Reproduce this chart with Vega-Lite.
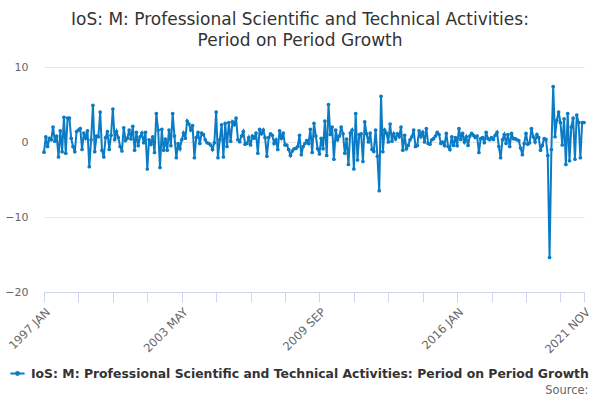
{
  "$schema": "https://vega.github.io/schema/vega-lite/v6.json",
  "autosize": "none",
  "width": 540,
  "height": 225,
  "padding": {"left": 44, "top": 67, "right": 16, "bottom": 108},
  "background": "#ffffff",
  "title": {
    "text": ["IoS: M: Professional Scientific and Technical Activities:", "Period on Period Growth"],
    "font": "DejaVu Sans",
    "fontSize": 17,
    "fontWeight": "normal",
    "color": "#333333",
    "anchor": "middle",
    "frame": "group",
    "dx": -14,
    "offset": 11,
    "lineHeight": 21
  },
  "config": {
    "view": {"stroke": null},
    "font": "DejaVu Sans"
  },
  "data": {"values": [
    {"m":"1997 JAN","v":-1.35},{"m":"1997 FEB","v":0.7},{"m":"1997 MAR","v":-0.6},{"m":"1997 APR","v":0.5},{"m":"1997 MAY","v":0.3},{"m":"1997 JUN","v":2.0},{"m":"1997 JUL","v":0.1},{"m":"1997 AUG","v":0.8},{"m":"1997 SEP","v":-2.0},{"m":"1997 OCT","v":1.5},{"m":"1997 NOV","v":-1.3},{"m":"1997 DEC","v":3.3},
    {"m":"1998 JAN","v":-1.5},{"m":"1998 FEB","v":3.2},{"m":"1998 MAR","v":3.2},{"m":"1998 APR","v":0.5},{"m":"1998 MAY","v":-0.6},{"m":"1998 JUN","v":-1.3},{"m":"1998 JUL","v":1.4},{"m":"1998 AUG","v":1.6},{"m":"1998 SEP","v":1.8},{"m":"1998 OCT","v":-1.0},{"m":"1998 NOV","v":1.2},{"m":"1998 DEC","v":0.5},
    {"m":"1999 JAN","v":1.5},{"m":"1999 FEB","v":-3.3},{"m":"1999 MAR","v":0.3},{"m":"1999 APR","v":4.9},{"m":"1999 MAY","v":-1.3},{"m":"1999 JUN","v":0.8},{"m":"1999 JUL","v":0.7},{"m":"1999 AUG","v":4.0},{"m":"1999 SEP","v":-1.1},{"m":"1999 OCT","v":-2.0},{"m":"1999 NOV","v":0.6},{"m":"1999 DEC","v":1.4},
    {"m":"2000 JAN","v":-1.0},{"m":"2000 FEB","v":0.9},{"m":"2000 MAR","v":4.4},{"m":"2000 APR","v":0.3},{"m":"2000 MAY","v":1.4},{"m":"2000 JUN","v":0.6},{"m":"2000 JUL","v":-0.6},{"m":"2000 AUG","v":-1.2},{"m":"2000 SEP","v":1.9},{"m":"2000 OCT","v":0.2},{"m":"2000 NOV","v":0.5},{"m":"2000 DEC","v":1.6},
    {"m":"2001 JAN","v":0.4},{"m":"2001 FEB","v":2.1},{"m":"2001 MAR","v":-1.1},{"m":"2001 APR","v":1.3},{"m":"2001 MAY","v":-0.5},{"m":"2001 JUN","v":0.7},{"m":"2001 JUL","v":1.2},{"m":"2001 AUG","v":-0.1},{"m":"2001 SEP","v":1.3},{"m":"2001 OCT","v":-3.6},{"m":"2001 NOV","v":0.3},{"m":"2001 DEC","v":-0.3},
    {"m":"2002 JAN","v":0.7},{"m":"2002 FEB","v":-1.4},{"m":"2002 MAR","v":3.8},{"m":"2002 APR","v":1.6},{"m":"2002 MAY","v":-3.4},{"m":"2002 JUN","v":1.7},{"m":"2002 JUL","v":-1.1},{"m":"2002 AUG","v":0.4},{"m":"2002 SEP","v":-1.1},{"m":"2002 OCT","v":1.6},{"m":"2002 NOV","v":-0.5},{"m":"2002 DEC","v":3.8},
    {"m":"2003 JAN","v":0.8},{"m":"2003 FEB","v":-2.1},{"m":"2003 MAR","v":-0.2},{"m":"2003 APR","v":-0.9},{"m":"2003 MAY","v":0.3},{"m":"2003 JUN","v":1.2},{"m":"2003 JUL","v":0.5},{"m":"2003 AUG","v":2.8},{"m":"2003 SEP","v":2.4},{"m":"2003 OCT","v":1.6},{"m":"2003 NOV","v":2.2},{"m":"2003 DEC","v":-2.1},
    {"m":"2004 JAN","v":0.6},{"m":"2004 FEB","v":1.3},{"m":"2004 MAR","v":-0.2},{"m":"2004 APR","v":1.2},{"m":"2004 MAY","v":1.0},{"m":"2004 JUN","v":0.3},{"m":"2004 JUL","v":-0.1},{"m":"2004 AUG","v":-0.2},{"m":"2004 SEP","v":-0.4},{"m":"2004 OCT","v":-1.0},{"m":"2004 NOV","v":-0.1},{"m":"2004 DEC","v":4.0},
    {"m":"2005 JAN","v":-2.1},{"m":"2005 FEB","v":0.3},{"m":"2005 MAR","v":2.3},{"m":"2005 APR","v":-2.0},{"m":"2005 MAY","v":2.5},{"m":"2005 JUN","v":-0.6},{"m":"2005 JUL","v":2.6},{"m":"2005 AUG","v":0.1},{"m":"2005 SEP","v":2.7},{"m":"2005 OCT","v":2.3},{"m":"2005 NOV","v":3.2},{"m":"2005 DEC","v":0.3},
    {"m":"2006 JAN","v":0.05},{"m":"2006 FEB","v":0.8},{"m":"2006 MAR","v":1.4},{"m":"2006 APR","v":-0.3},{"m":"2006 MAY","v":-0.2},{"m":"2006 JUN","v":0.6},{"m":"2006 JUL","v":-0.4},{"m":"2006 AUG","v":0.8},{"m":"2006 SEP","v":0.5},{"m":"2006 OCT","v":1.2},{"m":"2006 NOV","v":-1.5},{"m":"2006 DEC","v":1.7},
    {"m":"2007 JAN","v":1.1},{"m":"2007 FEB","v":1.6},{"m":"2007 MAR","v":0.6},{"m":"2007 APR","v":-1.9},{"m":"2007 MAY","v":0.6},{"m":"2007 JUN","v":1.1},{"m":"2007 JUL","v":0.9},{"m":"2007 AUG","v":-0.2},{"m":"2007 SEP","v":0.3},{"m":"2007 OCT","v":-1.0},{"m":"2007 NOV","v":1.5},{"m":"2007 DEC","v":0.5},
    {"m":"2008 JAN","v":1.2},{"m":"2008 FEB","v":-0.4},{"m":"2008 MAR","v":-0.4},{"m":"2008 APR","v":-1.0},{"m":"2008 MAY","v":-1.8},{"m":"2008 JUN","v":-1.2},{"m":"2008 JUL","v":-0.9},{"m":"2008 AUG","v":-0.85},{"m":"2008 SEP","v":-0.6},{"m":"2008 OCT","v":0.9},{"m":"2008 NOV","v":-1.7},{"m":"2008 DEC","v":-0.6},
    {"m":"2009 JAN","v":-0.2},{"m":"2009 FEB","v":0.2},{"m":"2009 MAR","v":-0.2},{"m":"2009 APR","v":1.7},{"m":"2009 MAY","v":-1.4},{"m":"2009 JUN","v":2.5},{"m":"2009 JUL","v":0.8},{"m":"2009 AUG","v":-0.9},{"m":"2009 SEP","v":-1.6},{"m":"2009 OCT","v":0.5},{"m":"2009 NOV","v":-0.9},{"m":"2009 DEC","v":2.8},
    {"m":"2010 JAN","v":-1.8},{"m":"2010 FEB","v":5.0},{"m":"2010 MAR","v":1.0},{"m":"2010 APR","v":2.0},{"m":"2010 MAY","v":-2.3},{"m":"2010 JUN","v":1.6},{"m":"2010 JUL","v":0.3},{"m":"2010 AUG","v":0.8},{"m":"2010 SEP","v":2.0},{"m":"2010 OCT","v":1.1},{"m":"2010 NOV","v":-1.5},{"m":"2010 DEC","v":0.4},
    {"m":"2011 JAN","v":-3.0},{"m":"2011 FEB","v":1.2},{"m":"2011 MAR","v":1.6},{"m":"2011 APR","v":-3.6},{"m":"2011 MAY","v":3.8},{"m":"2011 JUN","v":-2.4},{"m":"2011 JUL","v":1.0},{"m":"2011 AUG","v":1.1},{"m":"2011 SEP","v":-2.6},{"m":"2011 OCT","v":2.7},{"m":"2011 NOV","v":1.1},{"m":"2011 DEC","v":0.0},
    {"m":"2012 JAN","v":1.2},{"m":"2012 FEB","v":-1.0},{"m":"2012 MAR","v":-1.25},{"m":"2012 APR","v":1.6},{"m":"2012 MAY","v":-1.9},{"m":"2012 JUN","v":-6.5},{"m":"2012 JUL","v":6.1},{"m":"2012 AUG","v":-1.3},{"m":"2012 SEP","v":1.6},{"m":"2012 OCT","v":1.2},{"m":"2012 NOV","v":0.0},{"m":"2012 DEC","v":2.4},
    {"m":"2013 JAN","v":0.1},{"m":"2013 FEB","v":1.1},{"m":"2013 MAR","v":0.4},{"m":"2013 APR","v":1.1},{"m":"2013 MAY","v":0.7},{"m":"2013 JUN","v":2.0},{"m":"2013 JUL","v":-1.1},{"m":"2013 AUG","v":0.9},{"m":"2013 SEP","v":-0.9},{"m":"2013 OCT","v":-0.45},{"m":"2013 NOV","v":0.3},{"m":"2013 DEC","v":0.7},
    {"m":"2014 JAN","v":1.6},{"m":"2014 FEB","v":-0.6},{"m":"2014 MAR","v":-0.45},{"m":"2014 APR","v":1.5},{"m":"2014 MAY","v":0.7},{"m":"2014 JUN","v":1.3},{"m":"2014 JUL","v":0.0},{"m":"2014 AUG","v":1.8},{"m":"2014 SEP","v":-0.2},{"m":"2014 OCT","v":-0.3},{"m":"2014 NOV","v":0.3},{"m":"2014 DEC","v":0.45},
    {"m":"2015 JAN","v":0.8},{"m":"2015 FEB","v":1.3},{"m":"2015 MAR","v":1.0},{"m":"2015 APR","v":-0.2},{"m":"2015 MAY","v":0.0},{"m":"2015 JUN","v":-0.45},{"m":"2015 JUL","v":1.15},{"m":"2015 AUG","v":-0.6},{"m":"2015 SEP","v":-1.0},{"m":"2015 OCT","v":0.7},{"m":"2015 NOV","v":-0.45},{"m":"2015 DEC","v":0.6},
    {"m":"2016 JAN","v":-0.5},{"m":"2016 FEB","v":1.8},{"m":"2016 MAR","v":0.35},{"m":"2016 APR","v":1.15},{"m":"2016 MAY","v":0.0},{"m":"2016 JUN","v":0.7},{"m":"2016 JUL","v":-0.45},{"m":"2016 AUG","v":0.8},{"m":"2016 SEP","v":1.15},{"m":"2016 OCT","v":0.9},{"m":"2016 NOV","v":0.6},{"m":"2016 DEC","v":0.8},
    {"m":"2017 JAN","v":-1.4},{"m":"2017 FEB","v":0.45},{"m":"2017 MAR","v":0.6},{"m":"2017 APR","v":-0.1},{"m":"2017 MAY","v":1.3},{"m":"2017 JUN","v":0.45},{"m":"2017 JUL","v":0.3},{"m":"2017 AUG","v":0.6},{"m":"2017 SEP","v":0.35},{"m":"2017 OCT","v":0.9},{"m":"2017 NOV","v":1.3},{"m":"2017 DEC","v":-0.6},
    {"m":"2018 JAN","v":-2.1},{"m":"2018 FEB","v":0.3},{"m":"2018 MAR","v":1.0},{"m":"2018 APR","v":-0.2},{"m":"2018 MAY","v":1.0},{"m":"2018 JUN","v":-0.6},{"m":"2018 JUL","v":1.15},{"m":"2018 AUG","v":0.45},{"m":"2018 SEP","v":0.45},{"m":"2018 OCT","v":0.3},{"m":"2018 NOV","v":0.2},{"m":"2018 DEC","v":-0.8},
    {"m":"2019 JAN","v":-1.7},{"m":"2019 FEB","v":-0.2},{"m":"2019 MAR","v":1.15},{"m":"2019 APR","v":-0.3},{"m":"2019 MAY","v":-0.1},{"m":"2019 JUN","v":1.8},{"m":"2019 JUL","v":0.7},{"m":"2019 AUG","v":0.0},{"m":"2019 SEP","v":1.0},{"m":"2019 OCT","v":0.6},{"m":"2019 NOV","v":-1.1},{"m":"2019 DEC","v":-0.45},
    {"m":"2020 JAN","v":0.45},{"m":"2020 FEB","v":0.35},{"m":"2020 MAR","v":-1.8},{"m":"2020 APR","v":-15.4},{"m":"2020 MAY","v":-1.0},{"m":"2020 JUN","v":7.4},{"m":"2020 JUL","v":0.7},{"m":"2020 AUG","v":2.9},{"m":"2020 SEP","v":4.0},{"m":"2020 OCT","v":2.6},{"m":"2020 NOV","v":-0.4},{"m":"2020 DEC","v":3.1},
    {"m":"2021 JAN","v":-3.0},{"m":"2021 FEB","v":3.8},{"m":"2021 MAR","v":-2.5},{"m":"2021 APR","v":2.0},{"m":"2021 MAY","v":3.2},{"m":"2021 JUN","v":-2.3},{"m":"2021 JUL","v":3.6},{"m":"2021 AUG","v":2.6},{"m":"2021 SEP","v":-2.1},{"m":"2021 OCT","v":2.6},{"m":"2021 NOV","v":2.6}
  ]},
  "mark": {
    "type": "line",
    "strokeWidth": 2,
    "point": {"size": 14, "filled": true}
  },
  "encoding": {
    "x": {
      "field": "m",
      "type": "ordinal",
      "sort": null,
      "scale": {"type": "point", "padding": 0},
      "axis": {
        "values": ["1997 JAN","1998 AUG","2000 MAR","2001 OCT","2003 MAY","2004 DEC","2006 JUL","2008 FEB","2009 SEP","2011 APR","2012 NOV","2014 JUN","2016 JAN","2017 AUG","2019 MAR","2020 OCT","2021 NOV"],
        "labelExpr": "indexof(['1997 JAN','2003 MAY','2009 SEP','2016 JAN','2021 NOV'], datum.value) >= 0 ? datum.value : ''",
        "labelAngle": -45,
        "labelOverlap": false,
        "labelColor": "#666666",
        "labelFontSize": 11.5,
        "labelPadding": 4,
        "domainColor": "#ccd6eb",
        "tickColor": "#ccd6eb",
        "tickSize": 10,
        "grid": false,
        "title": "Source:",
        "titleFontSize": 11.5,
        "titleFontWeight": "normal",
        "titleColor": "#666666",
        "titleAlign": "right",
        "titleBaseline": "alphabetic",
        "titleX": 544,
        "titleY": 101
      }
    },
    "y": {
      "field": "v",
      "type": "quantitative",
      "scale": {"domain": [-20, 10], "nice": false},
      "axis": {
        "values": [-20, -10, 0, 10],
        "title": null,
        "domain": false,
        "ticks": false,
        "grid": true,
        "gridColor": "#e6e6e6",
        "labelColor": "#666666",
        "labelFontSize": 11,
        "labelPadding": 16
      }
    },
    "color": {
      "datum": "IoS: M: Professional Scientific and Technical Activities: Period on Period Growth",
      "type": "nominal",
      "scale": {"range": ["#0a7bc4"]},
      "legend": {
        "title": null,
        "orient": "none",
        "legendX": -35,
        "legendY": 298,
        "labelFont": "DejaVu Sans",
        "labelFontSize": 12.4,
        "labelFontWeight": "bold",
        "labelColor": "#333333",
        "labelLimit": 0,
        "labelOffset": 5,
        "symbolType": "M-1,0H1M-0.2,0a0.2,0.2 0 1,0 0.4,0a0.2,0.2 0 1,0 -0.4,0",
        "symbolSize": 200,
        "symbolStrokeWidth": 2,
        "symbolStrokeColor": "#0a7bc4",
        "symbolFillColor": "#0a7bc4"
      }
    }
  }
}
